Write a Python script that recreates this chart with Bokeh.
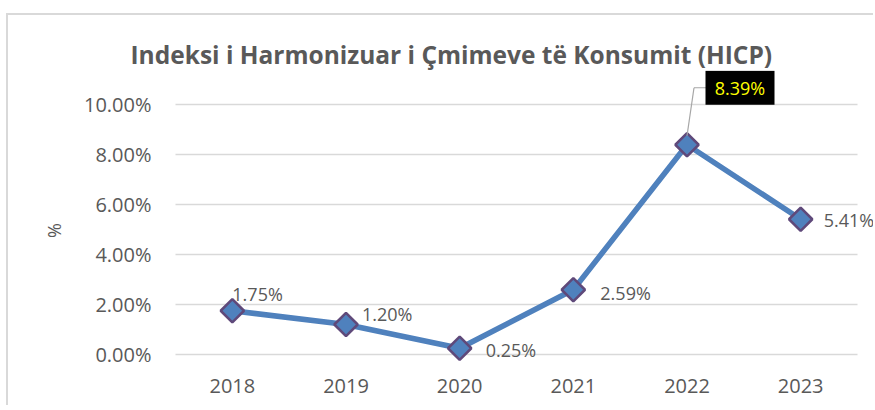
from bokeh.plotting import figure
from bokeh.models import (ColumnDataSource, FactorRange, Range1d, FixedTicker,
                          NumeralTickFormatter, LabelSet)
from bokeh.core.properties import value
from bokeh.transform import dodge
from bokeh.embed import file_html
from bokeh.resources import INLINE
import math

# ---- data ----
years = ["2018", "2019", "2020", "2021", "2022", "2023"]
hicp = [0.0175, 0.0120, 0.0025, 0.0259, 0.0839, 0.0541]
y_ticks = [0.0, 0.02, 0.04, 0.06, 0.08, 0.10]
title_text = "Indeksi i Harmonizuar i Çmimeve të Konsumit (HICP)"
y_label = "%"
callout_index = 4

# ---- layout (pixels) ----
W, H = 867, 392
B_LEFT, B_RIGHT, B_TOP, B_BOTTOM = 149, 0, 55, 45
frame_w = W - B_LEFT - B_RIGHT
frame_h = H - B_TOP - B_BOTTOM
PAD_X = 18                       # px of frame beyond the category band on each side
px_per_cat = (frame_w - 2 * PAD_X) / len(years)
PX_PER_UNIT_Y = 2500.0           # 2% per 50 px
ZERO_UP = 8                      # px between frame bottom and the 0% line
y_min = -ZERO_UP / PX_PER_UNIT_Y
y_max = y_min + frame_h / PX_PER_UNIT_Y

GRAY_TXT = "#595959"
FONT = "Open Sans"

p = figure(width=W, height=H,
           x_range=FactorRange(*years, range_padding=PAD_X / px_per_cat,
                               range_padding_units="absolute"),
           y_range=Range1d(y_min, y_max),
           output_backend="svg", toolbar_location=None,
           min_border_left=B_LEFT, min_border_right=B_RIGHT,
           min_border_top=B_TOP, min_border_bottom=B_BOTTOM)
p.styles = {"margin-left": "6px", "margin-top": "13px",
            "border-left": "2px solid #d9d9d9", "border-top": "2px solid #d9d9d9"}
p.outline_line_color = None
p.background_fill_color = "white"
p.border_fill_color = "white"

# title
p.title.text = title_text
p.title.text_font = FONT
p.title.text_font_size = "24.5px"
p.title.text_font_style = "bold"
p.title.text_color = GRAY_TXT
p.title.align = "left"
p.title.offset = -27
p.title.standoff = 0

# grid
p.xgrid.grid_line_color = None
p.ygrid.ticker = FixedTicker(ticks=y_ticks)
p.ygrid.grid_line_color = "#d9d9d9"
p.ygrid.grid_line_width = 1.5
p.ygrid.cross_bounds = (0, len(years))

# axes
p.yaxis.ticker = FixedTicker(ticks=y_ticks)
p.yaxis.formatter = NumeralTickFormatter(format="0.00%")
p.yaxis.bounds = (y_ticks[0], y_ticks[-1])
for ax in (p.xaxis[0], p.yaxis[0]):
    ax.axis_line_color = None
    ax.major_tick_line_color = None
    ax.minor_tick_line_color = None
    ax.major_tick_out = 0
    ax.major_tick_in = 0
    ax.minor_tick_out = 0
    ax.major_label_text_font = FONT
    ax.major_label_text_font_size = "20px"
    ax.major_label_text_color = GRAY_TXT
p.yaxis.major_label_standoff = 6
p.xaxis.major_label_standoff = 16
# trailing no-break spaces keep the "%" centred on the 0-10% band rather than the frame
p.yaxis.axis_label = y_label + "\u00a0" * 6
p.yaxis.axis_label_text_font = FONT
p.yaxis.axis_label_text_font_size = "18px"
p.yaxis.axis_label_text_font_style = "normal"
p.yaxis.axis_label_text_color = GRAY_TXT
p.yaxis.axis_label_standoff = 15

src = ColumnDataSource(dict(x=years, y=hicp))

p.line("x", "y", source=src, line_color="#4f81bd", line_width=5.5)
p.scatter("x", "y", source=src, marker="square", angle=math.pi / 4, size=16.5,
          fill_color="#4f81bd", line_color="#5f497a", line_width=2.5)

# data labels (all but the callout)
lab_x_off = [0, 16, 26, 27, 0, 23]
lab_y_off = [17, 11, -2, -3, 0, -1]
idx = [i for i in range(len(years)) if i != callout_index]
lab_src = ColumnDataSource(dict(
    x=[years[i] for i in idx],
    y=[hicp[i] for i in idx],
    text=[f"{hicp[i] * 100:.2f}%" for i in idx],
    xo=[lab_x_off[i] for i in idx],
    yo=[lab_y_off[i] for i in idx],
))
p.add_layout(LabelSet(x="x", y="y", text="text", source=lab_src,
                      x_offset="xo", y_offset="yo",
                      text_font=value(FONT), text_font_size="18px", text_color=GRAY_TXT,
                      text_align="left", text_baseline="middle"))

# callout for the peak
cx, cy = years[callout_index], hicp[callout_index]
CALL_DX, CALL_DY = 53, 57
call_src = ColumnDataSource(dict(
    x=[cx], y0=[cy + 9 / PX_PER_UNIT_Y], yc=[cy + CALL_DY / PX_PER_UNIT_Y],
    text=[f"{cy * 100:.2f}%"]))
p.segment(x0=dodge("x", 0.0, range=p.x_range), y0="y0",
          x1=dodge("x", 7 / px_per_cat, range=p.x_range), y1="yc",
          source=call_src, line_color="#a6a6a6", line_width=1.2)
p.segment(x0=dodge("x", 7 / px_per_cat, range=p.x_range), y0="yc",
          x1=dodge("x", 19 / px_per_cat, range=p.x_range), y1="yc",
          source=call_src, line_color="#a6a6a6", line_width=1.2)
p.rect(x=dodge("x", CALL_DX / px_per_cat, range=p.x_range), y="yc",
       width=69, height=34, width_units="screen", height_units="screen",
       source=call_src, fill_color="black", line_color=None)
p.text(x=dodge("x", CALL_DX / px_per_cat, range=p.x_range), y="yc", text="text",
       source=call_src, text_font=value(FONT), text_font_size="18px",
       text_color="#ffff00", text_align="center", text_baseline="middle")

open("out.html", "w").write(file_html(p, INLINE))
